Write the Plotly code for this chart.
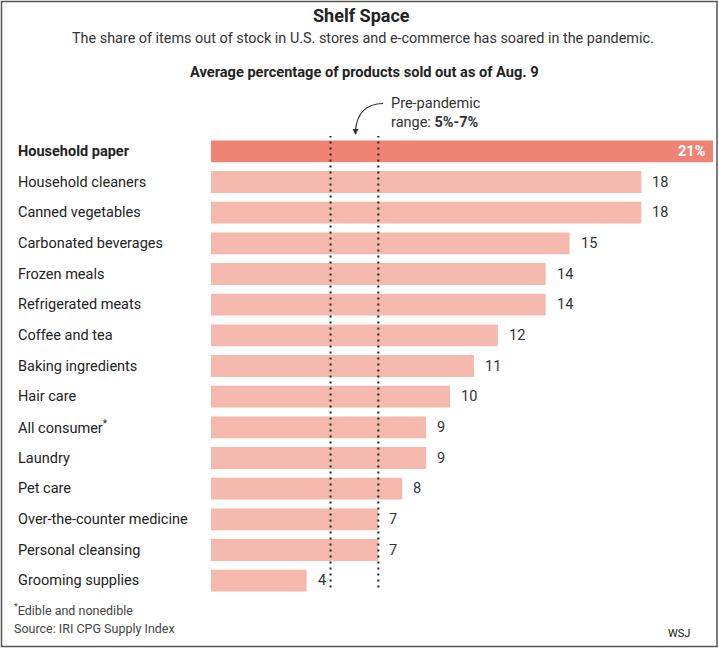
import plotly.graph_objects as go

categories = ["Household paper", "Household cleaners", "Canned vegetables",
              "Carbonated beverages", "Frozen meals", "Refrigerated meats",
              "Coffee and tea", "Baking ingredients", "Hair care",
              "All consumer*", "Laundry", "Pet care",
              "Over-the-counter medicine", "Personal cleansing", "Grooming supplies"]
values = [21, 18, 18, 15, 14, 14, 12, 11, 10, 9, 9, 8, 7, 7, 4]
pre_pandemic_range = [5, 7]

W, H = 719, 648
L, R, T, B = 211, 6, 136, 52
PW, PH = W - L - R, H - T - B

def px(x):
    return (x - L) / PW

def py(y):
    return 1 - (y - T) / PH

HI = "#F08474"
LO = "#F5B8AC"
TXT = "#333333"
FONT = "Roboto"

colors = [HI if i == 0 else LO for i in range(len(categories))]

fig = go.Figure(go.Bar(
    x=values, y=categories, orientation="h",
    marker=dict(color=colors, line=dict(width=0)),
    width=0.71, hoverinfo="skip",
))

annotations = []
for i, (c, v) in enumerate(zip(categories, values)):
    label = c
    if c.endswith("*"):
        label = c[:-1] + "<sup>*</sup>"
    if i == 0:
        label = "<b>" + label + "</b>"
    annotations.append(dict(x=px(15.5), y=c, xref="paper", yref="y", text=label,
                            xanchor="left", yanchor="middle", showarrow=False,
                            font=dict(family=FONT, size=14.5, color="#222")))
    if i == 0:
        annotations.append(dict(x=v, y=c, xref="x", yref="y", text="<b>%d%%</b>" % v,
                                xanchor="right", yanchor="middle", xshift=-5, showarrow=False,
                                font=dict(family=FONT, size=14.5, color="white")))
    else:
        annotations.append(dict(x=v, y=c, xref="x", yref="y", text=str(v),
                                xanchor="left", yanchor="middle", xshift=9, showarrow=False,
                                font=dict(family=FONT, size=14.5, color=TXT)))

# titles
annotations += [
    dict(x=px(361), y=py(15), xref="paper", yref="paper", text="<b>Shelf Space</b>",
         xanchor="center", yanchor="middle", showarrow=False,
         font=dict(family=FONT, size=18, color="#222")),
    dict(x=px(363), y=py(38), xref="paper", yref="paper",
         text="The share of items out of stock in U.S. stores and e-commerce has soared in the pandemic.",
         xanchor="center", yanchor="middle", showarrow=False,
         font=dict(family=FONT, size=14.4, color=TXT)),
    dict(x=px(364), y=py(72), xref="paper", yref="paper",
         text="<b>Average percentage of products sold out as of Aug. 9</b>",
         xanchor="center", yanchor="middle", showarrow=False,
         font=dict(family=FONT, size=14.6, color="#222")),
    dict(x=px(389), y=py(113), xref="paper", yref="paper",
         text="Pre-pandemic<br>range: <b>%d%%-%d%%</b>" % tuple(pre_pandemic_range),
         xanchor="left", yanchor="middle", align="left", showarrow=False,
         font=dict(family=FONT, size=14.5, color=TXT)),
    # arrowhead
    dict(x=px(355.5), y=py(135), xref="paper", yref="paper", text="",
         showarrow=True, ax=0, ay=-7, arrowhead=2, arrowsize=1, arrowwidth=1.2,
         arrowcolor="#333", standoff=0),
    dict(x=px(12), y=py(610), xref="paper", yref="paper",
         text="<sup>*</sup>Edible and nonedible",
         xanchor="left", yanchor="middle", showarrow=False,
         font=dict(family=FONT, size=12.5, color="#444")),
    dict(x=px(12), y=py(628), xref="paper", yref="paper",
         text="Source: IRI CPG Supply Index",
         xanchor="left", yanchor="middle", showarrow=False,
         font=dict(family=FONT, size=12.5, color="#444")),
    dict(x=px(692), y=py(633), xref="paper", yref="paper",
         text="WSJ", xanchor="right", yanchor="middle", showarrow=False,
         font=dict(family=FONT, size=11, color="#111")),
]

shapes = []
for v in pre_pandemic_range:
    shapes.append(dict(type="line", xref="x", yref="y", x0=v, x1=v, y0=-0.52, y1=14.25,
                       line=dict(color="#222", width=2, dash="2px,4px"), layer="above"))

# curved arrow line
shapes.append(dict(type="path", xref="paper", yref="paper",
                   path="M %f,%f Q %f,%f %f,%f" % (px(383), py(103.5), px(358), py(104),
                                                   px(355.5), py(130)),
                   line=dict(color="#333", width=1.2)))
# border
shapes.append(dict(type="rect", xref="paper", yref="paper",
                   x0=px(1.5), x1=px(717), y0=py(646.5), y1=py(1.5),
                   line=dict(color="#555", width=1.5), layer="below"))

fig.update_layout(
    width=W, height=H,
    margin=dict(l=L, r=R, t=T, b=B, autoexpand=False),
    paper_bgcolor="white", plot_bgcolor="white",
    showlegend=False, bargap=0.29,
    xaxis=dict(range=[0, 21], visible=False, fixedrange=True),
    yaxis=dict(categoryorder="array", categoryarray=categories,
               range=[14.5, -0.5], visible=False, fixedrange=True),
    annotations=annotations, shapes=shapes,
    font=dict(family=FONT),
)

fig.write_html("out.html", config={"displayModeBar": False},
               post_script="document.body.style.margin='0';document.body.style.padding='0';")
